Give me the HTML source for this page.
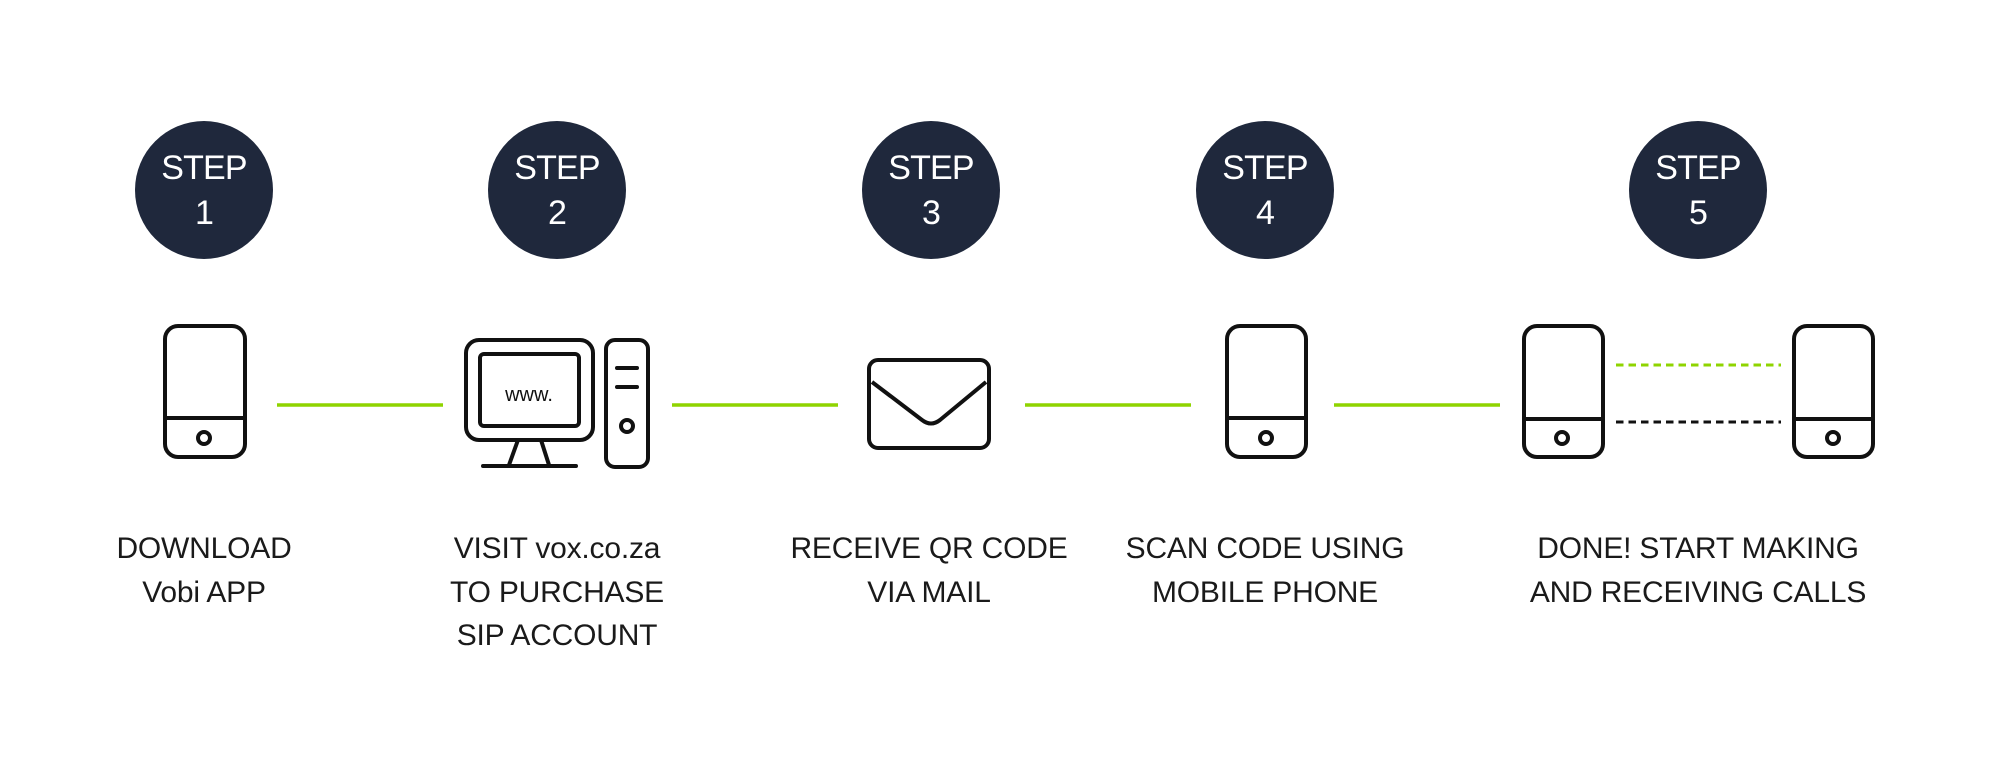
<!DOCTYPE html>
<html><head><meta charset="utf-8"><style>
html,body{margin:0;padding:0;background:#fff;}
svg{display:block;}
text{font-family:"Liberation Sans",sans-serif;}
</style></head><body>
<svg width="2000" height="782" viewBox="0 0 2000 782" xmlns="http://www.w3.org/2000/svg">
<g fill="#1f283c">
<circle cx="204" cy="190" r="69"/><circle cx="557" cy="190" r="69"/><circle cx="931" cy="190" r="69"/><circle cx="1265" cy="190" r="69"/><circle cx="1698" cy="190" r="69"/>
</g>
<g fill="#fff" font-size="34" text-anchor="middle" letter-spacing="-0.8">
<text x="204" y="179">STEP</text><text x="204" y="224">1</text>
<text x="557" y="179">STEP</text><text x="557" y="224">2</text>
<text x="931" y="179">STEP</text><text x="931" y="224">3</text>
<text x="1265" y="179">STEP</text><text x="1265" y="224">4</text>
<text x="1698" y="179">STEP</text><text x="1698" y="224">5</text>
</g>
<g stroke="#8fd400" stroke-width="3.5">
<line x1="277" y1="405" x2="443" y2="405"/><line x1="672" y1="405" x2="838" y2="405"/><line x1="1025" y1="405" x2="1191" y2="405"/><line x1="1334" y1="405" x2="1500" y2="405"/>
<line x1="1616" y1="365" x2="1781" y2="365" stroke-dasharray="7.5 5" stroke-width="3"/>
</g>
<line x1="1616" y1="422" x2="1781" y2="422" stroke="#111" stroke-dasharray="7.5 5" stroke-width="3"/>
<g fill="none" stroke="#111" stroke-width="4">
<rect x="165" y="326" width="80" height="131" rx="13"/><line x1="165" y1="418" x2="245" y2="418"/><circle cx="204" cy="438" r="6"/>
<rect x="1227" y="326" width="79" height="131" rx="13"/><line x1="1227" y1="418" x2="1306" y2="418"/><circle cx="1266" cy="438" r="6"/>
<rect x="1524" y="326" width="79" height="131" rx="13"/><line x1="1524" y1="419" x2="1603" y2="419"/><circle cx="1562" cy="438" r="6"/>
<rect x="1794" y="326" width="79" height="131" rx="13"/><line x1="1794" y1="419" x2="1873" y2="419"/><circle cx="1833" cy="438" r="6"/>
<rect x="466" y="340" width="127" height="100" rx="13"/>
<rect x="480" y="354" width="99" height="72" rx="4"/>
<line x1="518" y1="440" x2="509" y2="465"/><line x1="541" y1="440" x2="549" y2="465"/>
<line x1="483" y1="466" x2="576" y2="466" stroke-linecap="round"/>
<rect x="606" y="340" width="42" height="127" rx="9"/>
<line x1="617" y1="368" x2="637" y2="368" stroke-linecap="round"/><line x1="617" y1="387" x2="637" y2="387" stroke-linecap="round"/>
<circle cx="627" cy="426" r="6"/>
<rect x="869" y="360" width="120" height="88" rx="9"/>
<path d="M872 382 L922 420 Q931 427 940 420 L986 382"/>
</g>
<text x="529" y="401" font-size="20" text-anchor="middle" fill="#111">www.</text>
<g fill="#1a1a1a" font-size="30" text-anchor="middle" letter-spacing="-0.2">
<text x="204" y="558">DOWNLOAD</text><text x="204" y="602">Vobi APP</text>
<text x="557" y="558">VISIT vox.co.za</text><text x="557" y="602">TO PURCHASE</text><text x="557" y="645">SIP ACCOUNT</text>
<text x="929" y="558">RECEIVE QR CODE</text><text x="929" y="602">VIA MAIL</text>
<text x="1265" y="558">SCAN CODE USING</text><text x="1265" y="602">MOBILE PHONE</text>
<text x="1698" y="558">DONE! START MAKING</text><text x="1698" y="602">AND RECEIVING CALLS</text>
</g>
</svg>
</body></html>
